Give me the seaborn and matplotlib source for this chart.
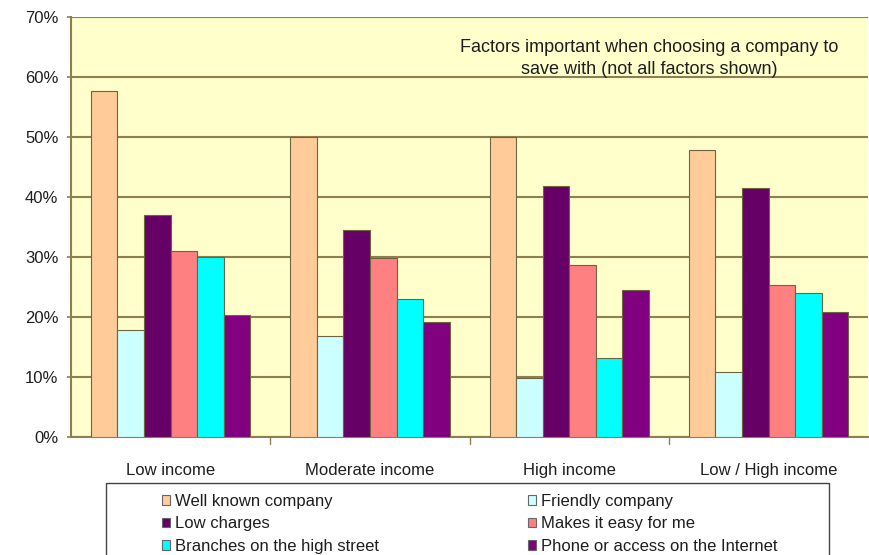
import matplotlib
matplotlib.use("Agg")
import matplotlib.pyplot as plt
import seaborn as sns
import pandas as pd
from matplotlib.patches import Patch, Rectangle
from matplotlib.ticker import PercentFormatter, FixedLocator

categories = ["Low income", "Moderate income", "High income", "Low / High income"]
factors = ["Well known company", "Friendly company", "Low charges",
           "Makes it easy for me", "Branches on the high street",
           "Phone or access on the Internet"]

well_known = [57.7, 50.0, 50.0, 47.8]
friendly = [17.8, 16.8, 9.8, 10.9]
low_charges = [37.0, 34.5, 41.8, 41.6]
makes_easy = [31.0, 29.8, 28.7, 25.3]
branches = [30.0, 23.0, 13.2, 24.0]
phone_internet = [20.3, 19.2, 24.5, 20.9]

colors = ["#FFCC99", "#CCFFFF", "#660066", "#FF8080", "#00FFFF", "#800080"]

series = [well_known, friendly, low_charges, makes_easy, branches, phone_internet]
rows = []
for factor, vals in zip(factors, series):
    for cat, v in zip(categories, vals):
        rows.append({"group": cat, "factor": factor, "share": v})
df = pd.DataFrame(rows)

sns.set_theme(style="white")
plt.rcParams["font.family"] = ["Liberation Sans", "DejaVu Sans"]

grid_col = "#8C8050"
text_col = "#1E1E1E"

fig = plt.figure(figsize=(8.7, 5.55), dpi=100)
ax = fig.add_axes([0.0816, 0.2126, 0.9164, 0.7564])
ax.set_facecolor("#FFFFCC")

sns.barplot(data=df, x="group", y="share", hue="factor", order=categories,
            hue_order=factors, palette=colors, saturation=1, width=0.8, ax=ax,
            edgecolor="#6E6440", linewidth=0.8, legend=False, zorder=3)

ax.set_ylim(0, 70)
ax.set_xlim(-0.5, 3.5)
ax.yaxis.set_major_locator(FixedLocator(range(0, 71, 10)))
ax.yaxis.set_major_formatter(PercentFormatter(decimals=0))
ax.grid(axis="y", color=grid_col, linewidth=1.5, zorder=0)
ax.set_axisbelow(True)
ax.set_xlabel("")
ax.set_ylabel("")

for side in ["top", "right"]:
    ax.spines[side].set_visible(False)
for side in ["left", "bottom"]:
    ax.spines[side].set_color(grid_col)
    ax.spines[side].set_linewidth(1.5)

ax.tick_params(axis="y", left=True, length=3, width=1.2, color=grid_col,
               labelsize=12, pad=6, labelcolor=text_col)
ax.tick_params(axis="x", bottom=False, labelsize=12, pad=13, labelcolor=text_col)
# small ticks on the boundaries between income groups
for b in [0.5, 1.5, 2.5]:
    ax.plot([b, b], [0, -1.2], color=grid_col, lw=1, clip_on=False)

ax.text(0.725, 0.902, "Factors important when choosing a company to\nsave with (not all factors shown)",
        transform=ax.transAxes, ha="center", va="center", fontsize=13,
        color=text_col, linespacing=1.4)

handles = [Patch(facecolor=c, edgecolor="#666666", linewidth=0.8, label=f)
           for f, c in zip(factors, colors)]
order = [0, 2, 4, 1, 3, 5]
leg = fig.legend([handles[i] for i in order], [factors[i] for i in order],
                 loc="upper left", bbox_to_anchor=(0.1862, 0.0, 0.708, 0.110),
                 mode="expand", ncol=2, fontsize=12, frameon=False,
                 handlelength=0.5, handleheight=0.5, handletextpad=0.3,
                 labelspacing=0.45, borderpad=0.0, borderaxespad=0.0)
for t in leg.get_texts():
    t.set_color(text_col)

# legend border
fig.patches.append(Rectangle((0.1218, -0.02), 0.831, 0.1497, transform=fig.transFigure,
                             fill=False, edgecolor="#444444", linewidth=1.0))

fig.savefig("out.png", dpi=100)
